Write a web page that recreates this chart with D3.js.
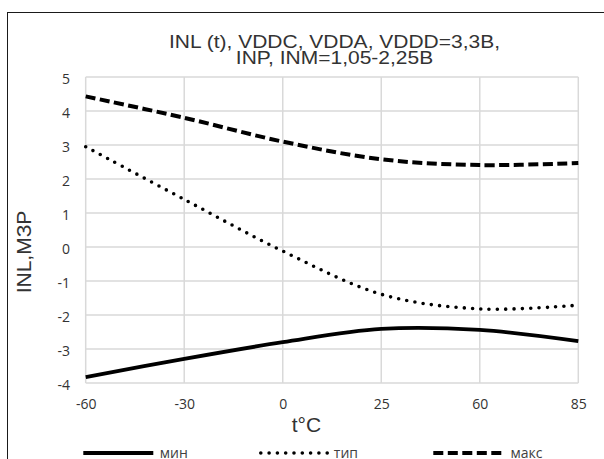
<!DOCTYPE html>
<html>
<head>
<meta charset="utf-8">
<script src="https://cdn.jsdelivr.net/npm/d3@7"></script>
<style>
	body { margin: 0; background: #fff; }
	svg { display: block; }
	.tick text { font-family: "Open Sans", sans-serif; font-size: 14px; fill: #333; }
	.title { font-family: "Liberation Sans", Arial, sans-serif; fill: #333; }
</style>
</head>
<body>
<svg id="chart" width="604" height="459"></svg>
<script>

// Categories (temperature, °C) and series values
const temps = ["-60", "-30", "0", "25", "60", "85"];
const minVals = [-3.83, -3.29, -2.80, -2.41, -2.44, -2.77];
const typVals = [2.95, 1.40, -0.12, -1.39, -1.82, -1.71];
const maxVals = [4.43, 3.80, 3.10, 2.58, 2.41, 2.47];
const yTicks = [-4, -3, -2, -1, 0, 1, 2, 3, 4, 5];
const seriesNames = ["мин", "тип", "макс"];

const titleLines = ["INL (t), VDDC, VDDA, VDDD=3,3В,", "INP, INM=1,05-2,25В"];
const yTitle = "INL,МЗР";
const xTitle = "t°C";

// Line styles per series
const styles = [
	{ width: 3.8, dash: null, cap: "butt" },
	{ width: 3.6, dash: "0 8.3", cap: "round" },
	{ width: 4, dash: "10 4.5", cap: "butt" }
];

const svg = d3.select("#chart");

// Plot area
const plotLeft = 85.7, plotRight = 578.3, plotTop = 77, plotBottom = 383;

const x = d3.scalePoint()
			.domain(temps)
			.range([plotLeft, plotRight]);

const y = d3.scaleLinear()
			.domain([d3.min(yTicks), d3.max(yTicks)])
			.range([plotBottom, plotTop]);

// Chart area frame (only left and top edges are inside the picture)
svg.append("rect")
	.attr("x", 7.5)
	.attr("y", 12.5)
	.attr("width", 700)
	.attr("height", 600)
	.attr("fill", "#fff")
	.attr("stroke", "#1a1a1a")
	.attr("stroke-width", 1);

// Gridlines
const grid = svg.append("g")
				.attr("stroke", "#d9d9d9")
				.attr("stroke-width", 1.5);

grid.selectAll("line.h")
	.data(yTicks)
	.enter()
	.append("line")
		.attr("class", "h")
		.attr("x1", plotLeft)
		.attr("x2", plotRight)
		.attr("y1", d => y(d))
		.attr("y2", d => y(d));

grid.selectAll("line.v")
	.data(temps)
	.enter()
	.append("line")
		.attr("class", "v")
		.attr("x1", d => x(d))
		.attr("x2", d => x(d))
		.attr("y1", plotTop)
		.attr("y2", plotBottom);

// Axes (plain hyphen for negatives, as in the original)
const yAxis = d3.axisLeft(y)
				.tickValues(yTicks)
				.tickSize(0)
				.tickPadding(15.7)
				.tickFormat(d => String(d));

svg.append("g")
	.attr("transform", "translate(" + plotLeft + ",0)")
	.call(yAxis)
	.call(g => g.select(".domain").remove())
	.call(g => g.selectAll(".tick text").attr("dy", 6.5));

const xAxis = d3.axisBottom(x)
				.tickSize(0);

svg.append("g")
	.attr("transform", "translate(0," + plotBottom + ")")
	.call(xAxis)
	.call(g => g.select(".domain").remove())
	.call(g => g.selectAll(".tick text").attr("y", 26).attr("dy", 0));

// Series lines
const line = d3.line()
				.x((d, i) => x(temps[i]))
				.y(d => y(d))
				.curve(d3.curveCardinal.tension(0));

[minVals, typVals, maxVals].forEach((vals, i) => {
	svg.append("path")
		.attr("d", line(vals))
		.attr("fill", "none")
		.attr("stroke", "#000")
		.attr("stroke-width", styles[i].width)
		.attr("stroke-dasharray", styles[i].dash)
		.attr("stroke-linecap", styles[i].cap);
});

// Titles - the chart title is a bit squeezed vertically in the original
titleLines.forEach((t, i) => {
	svg.append("text")
		.attr("class", "title")
		.attr("text-anchor", "middle")
		.attr("transform", "translate(334.5," + (48.3 + i * 15.6) + ") scale(1,0.9)")
		.style("font-size", "21px")
		.text(t);
});

svg.append("text")
	.attr("class", "title")
	.attr("text-anchor", "middle")
	.attr("transform", "translate(30.5,252) rotate(-90)")
	.style("font-size", "21px")
	.text(yTitle);

svg.append("text")
	.attr("class", "title")
	.attr("x", 291.7)
	.attr("y", 431.5)
	.style("font-size", "21px")
	.text(xTitle);

// Legend
const legendX = [83.3, 260.8, 433.3];
const legendLen = [70, 66.5, 70.7];
const legend = svg.append("g");

seriesNames.forEach((name, i) => {
	legend.append("line")
		.attr("x1", legendX[i])
		.attr("x2", legendX[i] + legendLen[i])
		.attr("y1", 453)
		.attr("y2", 453)
		.attr("stroke", "#000")
		.attr("stroke-width", styles[i].width)
		.attr("stroke-dasharray", styles[i].dash)
		.attr("stroke-linecap", styles[i].cap);

	legend.append("text")
		.attr("x", legendX[i] + legendLen[i] + 6.5)
		.attr("y", 457.5)
		.style("font-family", "'Open Sans', sans-serif")
		.style("font-size", "14px")
		.style("fill", "#404040")
		.text(name);
});

</script>
</body>
</html>
